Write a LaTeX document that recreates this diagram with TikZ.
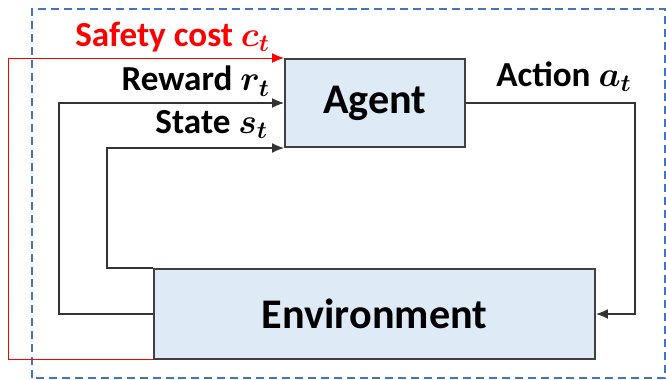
\documentclass[tikz,border=0pt]{standalone}
\usepackage{fontspec}
\setmainfont{Carlito}
\usetikzlibrary{arrows.meta}

\definecolor{blockfill}{RGB}{222,235,247}
\definecolor{blockline}{RGB}{64,64,64}
\definecolor{frameblue}{RGB}{68,114,196}
\definecolor{costred}{RGB}{255,0,0}

\begin{document}
\begin{tikzpicture}[
    block/.style={draw=blockline, line width=1.4pt, fill=blockfill, inner sep=0pt,
                  font=\fontsize{30}{36}\selectfont\bfseries},
    signal/.style={draw=black!80, line width=0.8pt, -{Latex[length=8.5pt,width=7pt]}},
    sig label/.style={inner sep=0pt, font=\fontsize{25}{30}\selectfont\bfseries\boldmath}
  ]

  \useasboundingbox (0,0) rectangle (16.65,9.5);

  % outer dashed frame
  \draw[frameblue, line width=1.4pt, dash pattern=on 5.7pt off 3.5pt]
    (0.8,0.05) rectangle (16.625,9.275);

  % agent and environment blocks
  \node[block, minimum width=4.5cm, minimum height=2.2cm] (agent) at (9.375,6.925) {Agent};
  \node[block, minimum width=11.025cm, minimum height=2.25cm] (env) at (9.3625,1.65) {Environment};

  % x positions of the feedback lines
  \coordinate (costx) at (0.2,0);
  \coordinate (rewardx) at (1.475,0);
  \coordinate (statex) at (2.675,0);
  \coordinate (actionx) at (15.875,0);

  % feedback from the environment to the agent
  \draw[signal, draw=costred, line width=0.7pt] (env.south west) -| (costx |- agent.north west) -- (agent.north west);
  \draw[signal] (env.west) -| (rewardx |- agent.west) -- (agent.west);
  \draw[signal] (env.north west) -| (statex |- agent.south west) -- (agent.south west);

  % action from the agent to the environment
  \draw[signal] (agent.east) -| (actionx |- env.east) -- (env.east);

  % signal names
  \node[sig label, costred, anchor=base east] (costlbl) at ([xshift=-0.35cm, yshift=0.3cm]agent.north west) {Safety cost $c_t$};
  \node[sig label, anchor=base east] (rewardlbl) at ([xshift=-0.35cm, yshift=0.3cm]agent.west) {Reward $r_t$};
  \node[sig label, anchor=base east] (statelbl) at ([xshift=-0.4cm, yshift=0.37cm]agent.south west) {State $s_t$};
  \node[sig label, anchor=base west] (actionlbl) at ([xshift=0.75cm, yshift=0.42cm]agent.east) {Action $a_t$};

\end{tikzpicture}
\end{document}
